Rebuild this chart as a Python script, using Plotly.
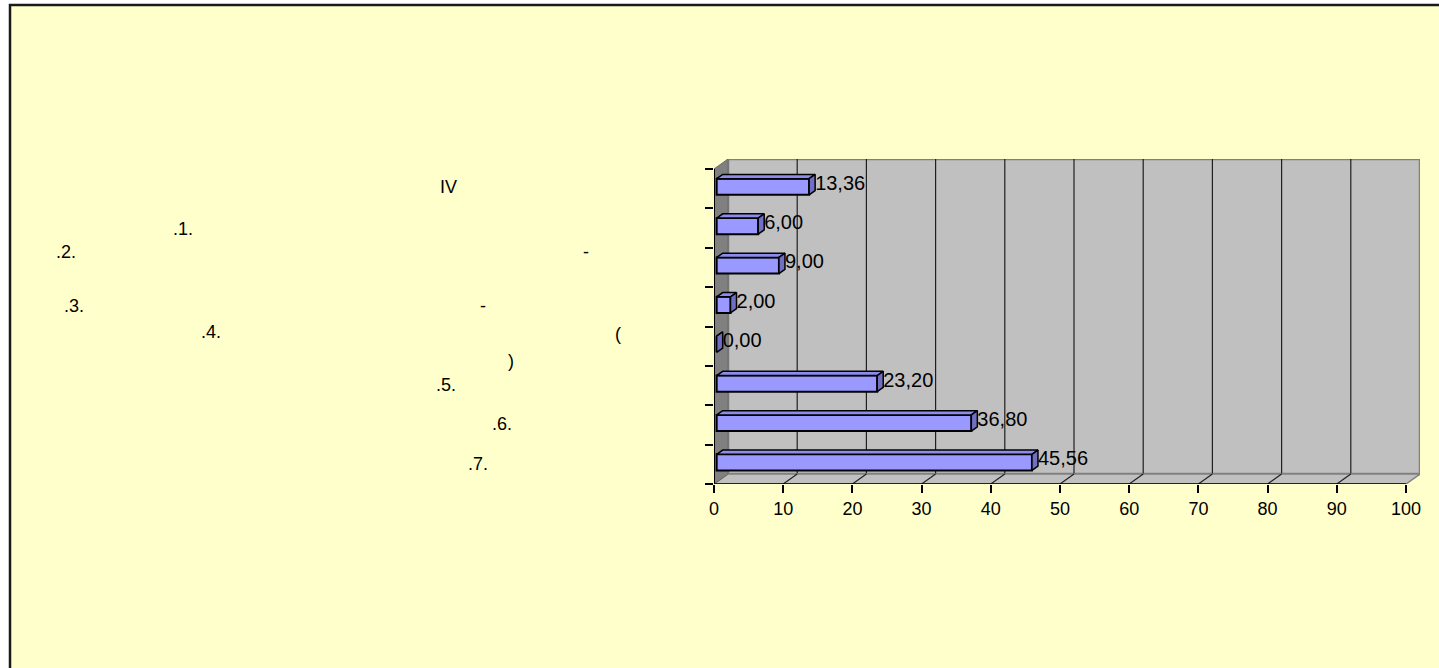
import plotly.graph_objects as go

# ---------------- data ----------------
categories = ["IV", ".1.", ".2.", ".3.", ".4.", ".5.", ".6.", ".7."]   # top -> bottom
values = [13.36, 6.00, 9.00, 2.00, 0.00, 23.20, 36.80, 45.56]
x_tick_values = [0, 10, 20, 30, 40, 50, 60, 70, 80, 90, 100]
x_tick_labels = ["0", "10", "20", "30", "40", "50", "60", "70", "80", "90", "100"]

# visible fragments of the (partly unrenderable) category captions
label_fragments = ["IV", ".1.", ".2.", "-", ".3.", "-", ".4.", "(", ")", ".5.", ".6.", ".7."]

# ---------------- geometry / style ----------------
W, H = 1439, 668
PL, PR, PT, PB = 714, 1420, 159, 484       # plot area in px
X_MAX = 100
FRONT_RIGHT = 1406
DXPX, DYPX = 14, 10                        # 3-D depth offset in px
ppx = (FRONT_RIGHT - PL) / X_MAX
n = len(categories)
ppy = (PB - (PT + DYPX)) / n
DX = DXPX / ppx
DY = DYPX / ppy
F0, F1 = 0.19, 0.62                        # bar depth (front/back fraction)
BW = 0.41                                  # bar thickness (category units)

FONT = "Arial, Liberation Sans, sans-serif"
FS = 18
FS_LABEL = 20
YELLOW = "#FFFFCC"
WALL = "#C0C0C0"
SIDE = "#808080"
BAR = "#9999FF"
BAR_TOP = "#8C8CEE"
BAR_SIDE = "#6F6FC4"

# pixel centres of the caption fragments
frag_pos = [(448, 187), (183, 229), (66, 252), (586, 252), (74, 306), (483, 306),
            (211, 332), (618, 334), (511, 361), (446, 385), (502, 424), (478, 464)]


def px2paper(px, py):
    return (px - PL) / (PR - PL), (PB - py) / (PB - PT)


fig = go.Figure()

yc = [(n - 1 - k) + 0.5 for k in range(n)]
dd = (F1 - F0) * DY
ddx = (F1 - F0) * DX

# front faces
fig.add_trace(go.Bar(
    orientation="h",
    x=values,
    y=[c + F0 * DY for c in yc],
    base=[F0 * DX] * n,
    width=BW,
    marker=dict(color=BAR, line=dict(color="black", width=2)),
    hoverinfo="skip",
))

# top faces
tx, ty = [], []
for v, c in zip(values, yc):
    x0 = F0 * DX
    yt = c + F0 * DY + BW / 2
    tx += [x0, x0 + v, x0 + v + ddx, x0 + ddx, x0, None]
    ty += [yt, yt, yt + dd, yt + dd, yt, None]
fig.add_trace(go.Scatter(x=tx, y=ty, mode="lines", fill="toself", fillcolor=BAR_TOP,
                         line=dict(color="black", width=1.5), hoverinfo="skip",
                         cliponaxis=False))

# end faces
sx, sy = [], []
for v, c in zip(values, yc):
    xe = F0 * DX + v
    yb = c + F0 * DY - BW / 2
    yt = c + F0 * DY + BW / 2
    sx += [xe, xe, xe + ddx, xe + ddx, xe, None]
    sy += [yb, yt, yt + dd, yb + dd, yb, None]
fig.add_trace(go.Scatter(x=sx, y=sy, mode="lines", fill="toself", fillcolor=BAR_SIDE,
                         line=dict(color="black", width=1.5), hoverinfo="skip",
                         cliponaxis=False))

# data labels
fig.add_trace(go.Scatter(
    x=[F1 * DX + v for v in values],
    y=[c + (F0 + F1) / 2 * DY for c in yc],
    text=[f"{v:.2f}".replace(".", ",") for v in values],
    mode="text",
    textposition="middle right",
    textfont=dict(family=FONT, size=FS_LABEL, color="black"),
    hoverinfo="skip",
    cliponaxis=False,
))

shapes = []
# outer frame
bx0, by0 = px2paper(10, 5)
bx1, by1 = px2paper(1480, 720)
shapes.append(dict(type="rect", xref="paper", yref="paper", x0=bx0, x1=bx1, y0=by1, y1=by0,
                   fillcolor=YELLOW, line=dict(color="#1a1a1a", width=2.5), layer="below"))
# back wall
shapes.append(dict(type="rect", xref="x", yref="y", x0=DX, x1=X_MAX + DX, y0=DY, y1=n + DY,
                   fillcolor=WALL, line=dict(color=SIDE, width=2.5), layer="below"))
for v in x_tick_values[1:-1]:
    shapes.append(dict(type="line", xref="x", yref="y", x0=v + DX, x1=v + DX, y0=DY, y1=n + DY,
                       line=dict(color="#202020", width=1.2), layer="below"))
# floor
shapes.append(dict(type="path", xref="x", yref="y",
                   path=f"M 0,0 L {X_MAX},0 L {X_MAX + DX},{DY} L {DX},{DY} Z",
                   fillcolor=WALL, line=dict(color=SIDE, width=1.5), layer="below"))
for v in x_tick_values[1:-1]:
    shapes.append(dict(type="line", xref="x", yref="y", x0=v, x1=v + DX, y0=0, y1=DY,
                       line=dict(color="#202020", width=1.2), layer="below"))
# left wall
shapes.append(dict(type="path", xref="x", yref="y",
                   path=f"M 0,0 L 0,{n} L {DX},{n + DY} L {DX},{DY} Z",
                   fillcolor=SIDE, line=dict(color="#6a6a6a", width=1), layer="below"))
# axis lines
shapes.append(dict(type="line", xref="x", yref="y", x0=0, x1=0, y0=0, y1=n,
                   line=dict(color="black", width=2), layer="below"))
shapes.append(dict(type="line", xref="x", yref="y", x0=0, x1=X_MAX, y0=0, y1=0,
                   line=dict(color="black", width=1.5), layer="below"))

annotations = []
for txt, (px, py) in zip(label_fragments, frag_pos):
    ax, ay = px2paper(px, py)
    annotations.append(dict(text=txt, x=ax, y=ay, xref="paper", yref="paper",
                            xanchor="center", yanchor="middle", showarrow=False,
                            font=dict(family=FONT, size=FS, color="black")))

fig.update_layout(
    width=W, height=H,
    margin=dict(l=PL, r=W - PR, t=PT, b=H - PB, pad=0),
    paper_bgcolor="white",
    plot_bgcolor="rgba(0,0,0,0)",
    showlegend=False,
    shapes=shapes,
    annotations=annotations,
    font=dict(family=FONT, size=FS, color="black"),
    xaxis=dict(range=[0, X_MAX + DX], tickvals=x_tick_values, ticktext=x_tick_labels,
               ticks="outside", ticklen=8, tickcolor="black", tickwidth=1.5,
               showgrid=False, zeroline=False, showline=False, fixedrange=True,
               ticklabelstandoff=0,
               tickfont=dict(family=FONT, size=FS, color="black")),
    yaxis=dict(range=[0, n + DY], tickvals=list(range(n + 1)), ticktext=[""] * (n + 1),
               ticks="outside", ticklen=8, tickcolor="black", tickwidth=1.5,
               showgrid=False, zeroline=False, showline=False, fixedrange=True),
)

fig.write_html(
    "out.html",
    config={"displayModeBar": False},
    post_script="document.body.style.margin='0';document.body.style.overflow='hidden';",
)
